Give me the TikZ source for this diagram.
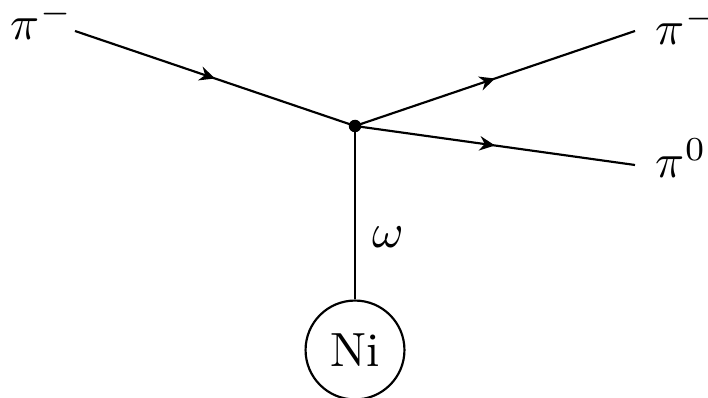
\documentclass[tikz,border=0pt]{standalone}
\usetikzlibrary{decorations.markings,arrows.meta}
\begin{document}
\begin{tikzpicture}[x=0.2083pt,y=-0.2083pt,
  fermion/.style={postaction={decorate},
    decoration={markings, mark=at position 0.5 with {\arrow{Stealth[length=3.2pt,width=3pt]}}}},
  vtx/.style={circle,fill=black,inner sep=0pt,minimum size=2.6pt},
  lbl/.style={anchor=base west,inner sep=0pt},
  nucleus/.style={circle,draw,inner sep=0pt,minimum size=20.6pt,line width=0.45pt}]
\useasboundingbox (0,0) rectangle (708,398);
\coordinate (in) at (75,31);
\coordinate (o1) at (635,31);
\coordinate (o2) at (635,165);
\node[vtx] (v) at (355,126) {};
\node[nucleus] (ni) at (355,350) {Ni};
\draw[fermion,line width=0.45pt] (in) -- (v.center);
\draw[fermion,line width=0.45pt] (v.center) -- (o1);
\draw[fermion,line width=0.45pt] (v.center) -- (o2);
\draw[line width=0.45pt] (v.center) -- (ni);
\node[lbl] (lpi) at (10,40) {$\pi^-$};
\node[lbl] (rpi) at (655,45) {$\pi^-$};
\node[lbl] (rpz) at (655,178) {$\pi^0$};
\node[lbl] (om) at (372,248) {$\omega$};
\end{tikzpicture}
\end{document}
